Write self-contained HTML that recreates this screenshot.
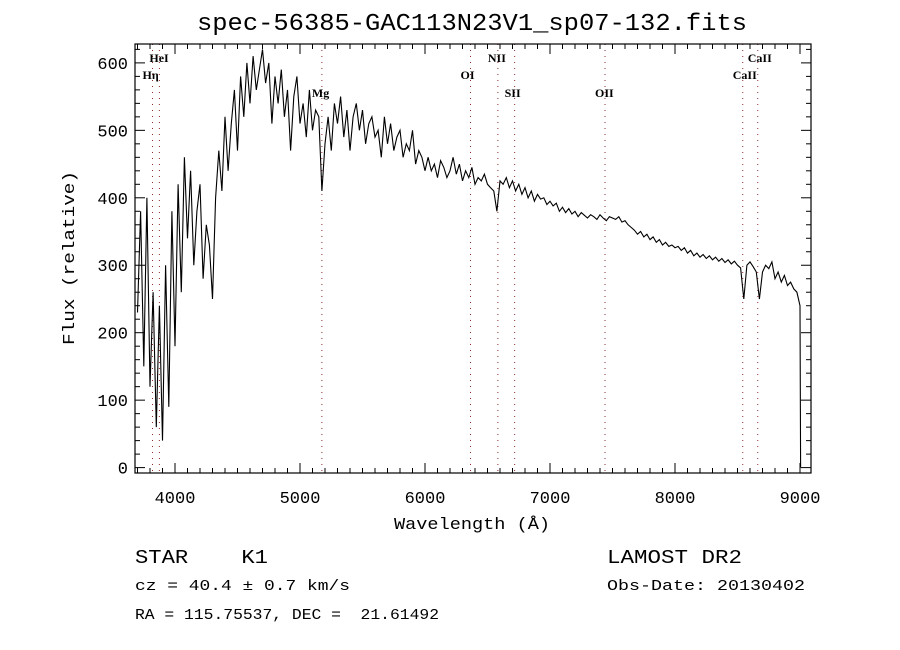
<!DOCTYPE html>
<html><head><meta charset="utf-8"><style>
html,body{margin:0;padding:0;background:#fff;}
svg{display:block;font-family:"Liberation Mono",monospace;}
</style></head><body>
<svg id="chart" width="900" height="650" viewBox="0 0 900 650" xmlns="http://www.w3.org/2000/svg">
<rect width="900" height="650" fill="#fff"/>
<text x="472" y="30" font-size="24" text-anchor="middle" textLength="550" lengthAdjust="spacingAndGlyphs">spec-56385-GAC113N23V1_sp07-132.fits</text>
<g id="lines"></g>
<g id="ticks"></g>
<path id="spec" fill="none" stroke="#000" stroke-width="1.1"/>
<rect x="135" y="44" width="676" height="429" fill="none" stroke="#000" stroke-width="1.2"/>
<text x="472" y="529" font-size="17" text-anchor="middle" textLength="156" lengthAdjust="spacingAndGlyphs">Wavelength (Å)</text>
<text transform="translate(74,258) rotate(-90)" font-size="17" text-anchor="middle" textLength="174" lengthAdjust="spacingAndGlyphs">Flux (relative)</text>
<text x="135" y="563" font-size="19" textLength="133" lengthAdjust="spacingAndGlyphs" xml:space="preserve">STAR    K1</text>
<text x="607" y="563" font-size="19" textLength="135" lengthAdjust="spacingAndGlyphs">LAMOST DR2</text>
<text x="135" y="590" font-size="15" textLength="215" lengthAdjust="spacingAndGlyphs">cz = 40.4 ± 0.7 km/s</text>
<text x="607" y="590" font-size="15" textLength="198" lengthAdjust="spacingAndGlyphs">Obs-Date: 20130402</text>
<text x="135" y="619" font-size="15" textLength="304" lengthAdjust="spacingAndGlyphs" xml:space="preserve">RA = 115.75537, DEC =  21.61492</text>
</svg>
<script>
const wave = [3700,3725,3750,3775,3800,3825,3850,3875,3900,3925,3950,
3975,4000,4025,4050,4075,4100,4125,4150,4175,4200,4225,4250,4275,4300,
4325,4350,4375,4400,4425,4450,4475,4500,
4525,4550,4575,4600,4625,4650,4675,4700,4725,4750,4775,4800,
4825,4850,4875,4900,4925,4950,4975,5000,5025,5050,5075,5100,5125,5150,
5175,
5200,5225,5250,5275,5300,5325,5350,5375,5400,5425,5450,5475,5500,5525,5550,5575,5600,
5625,5650,5675,5700,5725,5750,5775,5800,5825,5850,5875,5900,5925,5950,5975,6000,
6025,6050,6075,6100,6125,6150,6175,6200,6225,6250,6275,6300,6325,6350,6375,6400,6425,6450,6475,6500,6525,6550,
6575,
6600,6625,6650,6675,6700,6725,6750,6775,6800,6825,6850,6875,6900,6925,6950,6975,7000,
7025,7050,7075,7100,7125,7150,7175,7200,7225,7250,7275,7300,7325,7350,7375,7400,7425,7450,7475,7500,
7525,7550,7575,7600,7625,7650,7675,7700,7725,7750,7775,7800,7825,7850,7875,7900,7925,7950,7975,8000,
8025,8050,8075,8100,8125,8150,8175,8200,8225,8250,8275,8300,8325,8350,8375,8400,8425,8450,8475,8500,8525,
8550,8575,8600,8625,8650,8675,
8700,8725,8750,8775,8800,8825,8850,8875,8900,8925,8950,8975,9000,9005];
const flux = [230,380,150,400,120,260,60,240,40,300,90,
380,180,420,260,460,340,440,300,380,420,280,360,330,250,
400,470,410,520,440,510,560,470,
580,520,600,540,610,560,590,620,570,600,510,580,
540,590,520,560,470,550,580,510,540,490,560,500,530,520,
410,
480,520,470,540,510,550,490,530,470,520,540,500,530,480,510,520,490,
500,460,520,480,510,470,490,500,460,480,470,500,450,470,460,440,
460,440,450,430,455,445,430,440,460,435,450,425,440,430,445,420,430,425,435,420,415,410,
380,
425,420,430,415,425,410,420,405,415,400,410,395,405,398,400,390,395,
388,392,380,386,378,384,376,380,372,378,374,370,375,372,368,375,370,366,372,370,
368,372,364,366,360,356,352,346,350,342,346,338,342,334,338,330,334,328,330,326,
328,322,326,318,322,314,318,312,316,310,314,308,312,306,310,304,308,302,306,300,296,
250,300,305,298,290,250,
290,300,295,305,280,290,275,285,270,275,265,260,240,0];
const lineWaves = [3820,3875,5175,6364,6583,6717,7440,8542,8662];
const lineNames = ["Hη","HeI","Mg","OI","NII","SII","OII","CaII","CaII"];
const lineLabelRow = [1,0,2,1,0,2,2,1,0];
const xTicks = [4000,5000,6000,7000,8000,9000];
const yTicks = [0,100,200,300,400,500,600];
const NS="http://www.w3.org/2000/svg";
const X0=135,X1=811,Y0=473,Y1=44;
const WMIN=3680,WMAX=9088,FMIN=-8,FMAX=628;
function xs(w){return X0+(w-WMIN)/(WMAX-WMIN)*(X1-X0);}
function ys(f){return Y0-(f-FMIN)/(FMAX-FMIN)*(Y0-Y1);}
let d='';
for(let i=0;i<wave.length;i++){d+=(i?'L':'M')+xs(wave[i]).toFixed(1)+','+ys(Math.min(flux[i],FMAX)).toFixed(1);}
document.getElementById('spec').setAttribute('d',d);
const lg=document.getElementById('lines');
const rowY=[62,79,97];
for(let i=0;i<lineWaves.length;i++){
 const x=xs(lineWaves[i]);
 const l=document.createElementNS(NS,'line');
 
 
 l.setAttribute('x1',x);l.setAttribute('x2',x);l.setAttribute('y1',Y1);l.setAttribute('y2',Y0);
 l.setAttribute('stroke','#8b2a2a');l.setAttribute('stroke-dasharray','1,5');l.setAttribute('stroke-width','1');
 lg.appendChild(l);
 const t=document.createElementNS(NS,'text');
 
 
 t.setAttribute('x',x-10);t.setAttribute('y',rowY[lineLabelRow[i]]);
 t.setAttribute('font-size','12');t.setAttribute('font-family','Liberation Serif, serif');t.setAttribute('font-weight','bold');
 t.textContent=lineNames[i];lg.appendChild(t);
}
const tg=document.getElementById('ticks');
function tick(x1,y1,x2,y2){const l=document.createElementNS(NS,'line');
 
 
 l.setAttribute('x1',x1);l.setAttribute('y1',y1);l.setAttribute('x2',x2);l.setAttribute('y2',y2);l.setAttribute('stroke','#000');tg.appendChild(l);}
for(let w=3700;w<=9000;w+=100){const x=xs(w);const L=(w%1000===0)?10:5;tick(x,Y0,x,Y0-L);tick(x,Y1,x,Y1+L);}
for(let f=0;f<=620;f+=20){const y=ys(f);const L=(f%100===0)?10:5;tick(X0,y,X0+L,y);tick(X1,y,X1-L,y);}
xTicks.forEach(v=>{const t=document.createElementNS(NS,'text');
 
 
 t.setAttribute('x',xs(v));t.setAttribute('y',503);t.setAttribute('font-size','17');t.setAttribute('text-anchor','middle');
 t.textContent=v;tg.appendChild(t);});
yTicks.forEach(v=>{const t=document.createElementNS(NS,'text');
 
 
 t.setAttribute('x',128);t.setAttribute('y',ys(v)+6);t.setAttribute('font-size','17');t.setAttribute('text-anchor','end');
 t.textContent=v;tg.appendChild(t);});
</script>
</body></html>
